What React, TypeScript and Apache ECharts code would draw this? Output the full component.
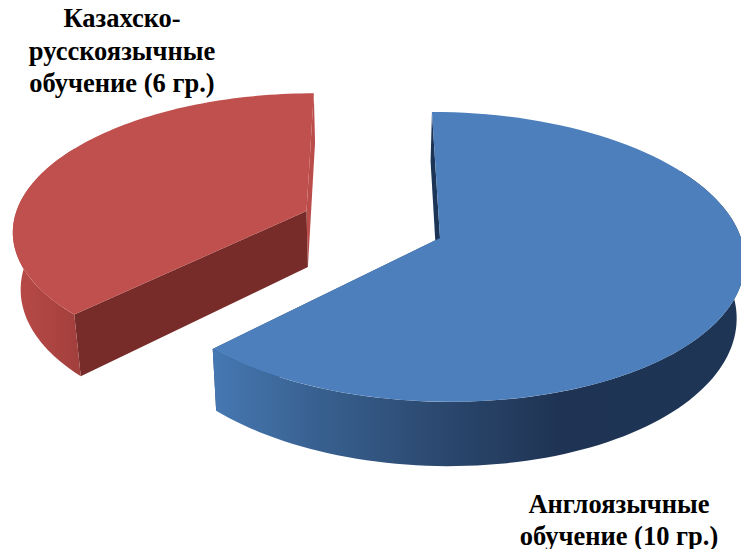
import React, { useEffect, useRef } from "react";
import * as echarts from "echarts";

const categories = ["Англоязычные обучение (10 гр.)", "Казахско-русскоязычные обучение (6 гр.)"];
const groupCounts = [10, 6];
const labelLinesBlue = ["Англоязычные", "обучение (10 гр.)"];
const labelLinesRed = ["Казахско-", "русскоязычные", "обучение (6 гр.)"];

const VX = 370; // horizontal vanishing point
const P = 0.13; // perspective strength
const BOTTOM_X = 0.978;
const DEPTH = 56;
const FONT = "'Liberation Serif', 'Times New Roman', serif";
const FONT_SIZE = 26.5;
const WALL_FROM = (60 / 180) * Math.PI;
const WALL_TO = (300 / 180) * Math.PI;

const looks = [
  {
    ax: 440, ay: 238, a: 142.5, b: 301,
    top: "#4C7FBC",
    startFace: "#1C3557",
    endFace: "#2A4A72",
    wall: [
      [0, "#4678B2"], [0.2, "#38608F"], [0.45, "#2A466C"], [0.65, "#1F3454"], [1, "#1E3555"],
    ],
  },
  {
    ax: 306.5, ay: 211, a: 133, b: 290,
    top: "#C0504D",
    startFace: "#772C2A",
    endFace: "#BA4C49",
    wall: [
      [0, "#B84A47"], [0.6, "#AC4441"], [1, "#A03F3C"],
    ],
  },
];

function project(look: any, theta: number, bottom: boolean): number[] {
  const X = Math.sin(theta);
  const Y = -Math.cos(theta);
  const d = 1 - P * Y;
  let x = VX + (look.ax - VX + look.b * X) / d;
  let y = look.ay + (look.a * Y) / d;
  if (bottom) {
    x = VX + (x - VX) * BOTTOM_X;
    y += DEPTH / d;
  }
  return [x, y];
}
function apex(look: any, bottom: boolean): number[] {
  return bottom
    ? [VX + (look.ax - VX) * BOTTOM_X, look.ay + DEPTH]
    : [look.ax, look.ay];
}

function App() {
  const ref = useRef<HTMLDivElement>(null);
  useEffect(() => {
    document.body.style.margin = "0";
    document.body.style.background = "#ffffff";
    const chart = echarts.init(ref.current!, null, { renderer: "svg" });
    const total = groupCounts.reduce((s, v) => s + v, 0);
    const textEl = (text: string, x: number, y: number) => ({
      type: "text",
      x,
      y,
      style: {
        text,
        fontFamily: FONT,
        fontWeight: "bold",
        fontSize: FONT_SIZE,
        fill: "#000000",
        align: "center",
        verticalAlign: "middle",
      },
    });
    chart.setOption({
      animation: false,
      backgroundColor: "#ffffff",
      graphic: [
        ...labelLinesRed.map((t, i) => textEl(t, 122, 18 + i * 32.5)),
        ...labelLinesBlue.map((t, i) => textEl(t, 619, 503.5 + i * 32)),
      ],
      series: [
        {
          type: "custom",
          coordinateSystem: "none",
          data: categories.map((name, i) => ({ name, value: [groupCounts[i], i] })),
          renderItem: (params: any, api: any) => {
            const idx = params.dataIndex;
            let before = 0;
            for (let i = 0; i < idx; i++) before += groupCounts[i];
            const look = looks[idx];
            const a0 = (before / total) * Math.PI * 2;
            const a1 = ((before + api.value(0)) / total) * Math.PI * 2;
            const n = 96;
            const topArc: number[][] = [];
            const wallTop: number[][] = [];
            const wallBot: number[][] = [];
            const w0 = Math.max(a0, WALL_FROM);
            const w1 = Math.min(a1, WALL_TO);
            for (let i = 0; i <= n; i++) {
              topArc.push(project(look, a0 + ((a1 - a0) * i) / n, false));
              const w = w0 + ((w1 - w0) * i) / n;
              wallTop.push(project(look, w, false));
              wallBot.push(project(look, w, true));
            }
            const poly = (points: number[][], fill: any) => ({
              type: "polygon",
              shape: { points },
              style: { fill, stroke: null },
            });
            const grad = new echarts.graphic.LinearGradient(
              0, 0, 1, 0,
              look.wall.map(([offset, color]) => ({ offset, color })) as any
            );
            const A = apex(look, false);
            const B = apex(look, true);
            const bottomOf = (theta: number) => project(look, theta, true);
            return {
              type: "group",
              children: [
                poly([A, topArc[n], bottomOf(a1), B], look.endFace),
                poly([A, topArc[0], bottomOf(a0), B], look.startFace),
                poly([...wallTop, ...wallBot.slice().reverse()], grad),
                poly([A, ...topArc], look.top),
              ],
            };
          },
        },
      ],
    });
    return () => chart.dispose();
  }, []);
  return <div ref={ref} style={{ position: "fixed", left: 0, top: 0, width: 741, height: 549 }} />;
}

export default App;
